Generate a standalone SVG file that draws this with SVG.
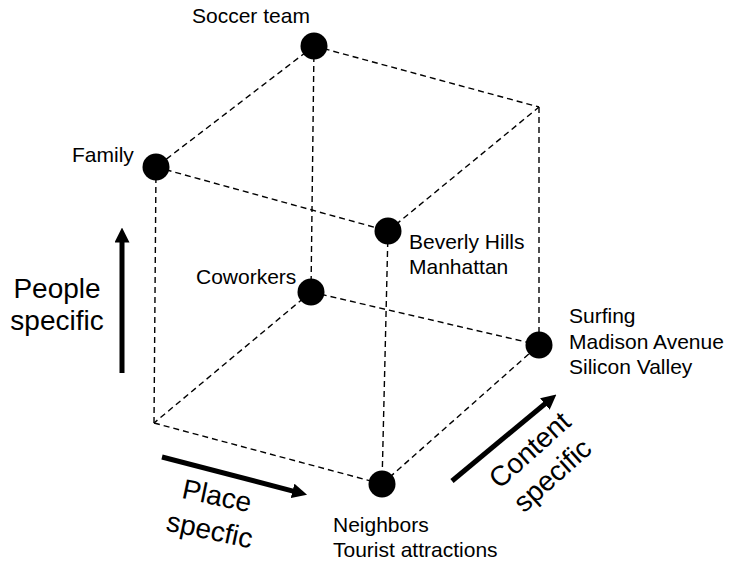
<svg xmlns="http://www.w3.org/2000/svg" width="732" height="563" viewBox="0 0 732 563">
<style>
.edge{stroke:#000;stroke-width:1.4;stroke-dasharray:6,4;fill:none}
.node{fill:#000}
.lbl{font-family:"Liberation Sans",Arial,sans-serif;font-size:21px;fill:#000}
.big{font-family:"Liberation Sans",Arial,sans-serif;font-size:28px;fill:#000}
.axis{stroke:#000;stroke-width:5;fill:none;marker-end:url(#ah)}
</style>
<defs>
<marker id="ah" viewBox="0 0 10 10" refX="1" refY="5" markerWidth="3" markerHeight="3" orient="auto" markerUnits="strokeWidth">
<path d="M0,0 L10,5 L0,10 z" fill="#000"/>
</marker>
</defs>
<rect width="732" height="563" fill="#fff"/>
<g id="connectors">
<line class="edge" x1="314" y1="46" x2="156" y2="167"/>
<line class="edge" x1="314" y1="46" x2="539" y2="107"/>
<line class="edge" x1="156" y1="167" x2="388" y2="231"/>
<line class="edge" x1="388" y1="231" x2="539" y2="107"/>
<line class="edge" x1="314" y1="46" x2="311" y2="292"/>
<line class="edge" x1="156" y1="167" x2="154" y2="423"/>
<line class="edge" x1="539" y1="107" x2="539" y2="345"/>
<line class="edge" x1="388" y1="231" x2="382" y2="484"/>
<line class="edge" x1="311" y1="292" x2="154" y2="423"/>
<line class="edge" x1="311" y1="292" x2="539" y2="345"/>
<line class="edge" x1="154" y1="423" x2="382" y2="484"/>
<line class="edge" x1="382" y1="484" x2="539" y2="345"/>
</g>
<g id="soccer">
<circle class="node" cx="314" cy="46" r="13.5"/>
<text class="lbl" x="192" y="23">Soccer team</text>
</g>
<g id="family">
<circle class="node" cx="156" cy="167" r="13.5"/>
<text class="lbl" x="72" y="162">Family</text>
</g>
<g id="beverly">
<circle class="node" cx="388" cy="231" r="13.5"/>
<text class="lbl" x="409" y="249">Beverly Hills</text>
<text class="lbl" x="409" y="274">Manhattan</text>
</g>
<g id="coworkers">
<circle class="node" cx="311" cy="292" r="13.5"/>
<text class="lbl" x="196" y="284">Coworkers</text>
</g>
<g id="surfing">
<circle class="node" cx="539" cy="345" r="13.5"/>
<text class="lbl" x="569" y="323">Surfing</text>
<text class="lbl" x="569" y="348.5">Madison Avenue</text>
<text class="lbl" x="569" y="374">Silicon Valley</text>
</g>
<g id="neighbors">
<circle class="node" cx="382" cy="484" r="13.5"/>
<text class="lbl" x="333" y="532">Neighbors</text>
<text class="lbl" x="333" y="557">Tourist attractions</text>
</g>
<g id="axes">
<line class="axis" x1="122" y1="373" x2="122" y2="241"/>
<line class="axis" x1="162" y1="457" x2="294" y2="491.3"/>
<line class="axis" x1="452" y1="481" x2="546" y2="403"/>
<text class="big" x="57" y="298" text-anchor="middle">People</text>
<text class="big" x="57" y="330" text-anchor="middle">specific</text>
<g transform="translate(215,505) rotate(12)">
<text class="big" x="0" y="0" text-anchor="middle">Place</text>
<text class="big" x="0" y="35" text-anchor="middle">specfic</text>
</g>
<g transform="translate(536,457) rotate(-42)">
<text class="big" x="0" y="0" text-anchor="middle">Content</text>
<text class="big" x="0" y="34" text-anchor="middle">specific</text>
</g>
</g>
</svg>
